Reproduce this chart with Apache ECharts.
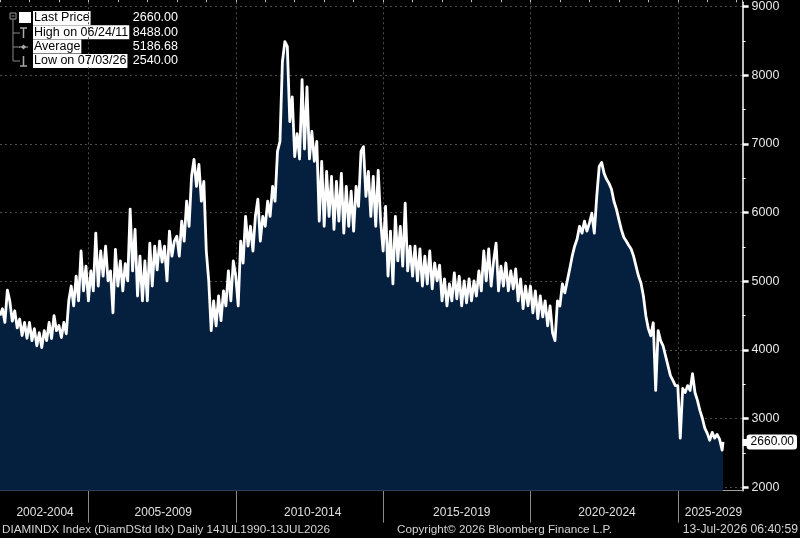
<!DOCTYPE html>
<html>
<head>
<meta charset="utf-8">
<script src="https://cdn.jsdelivr.net/npm/echarts@6/dist/echarts.min.js"></script>
<style>
  html, body { margin: 0; padding: 0; background: #000; }
  #main { width: 800px; height: 538px; }
</style>
</head>
<body>
<div id="main"></div>
<script>
// monthly closes, Jan 2002 .. Jun 2026
var startYear = 2002;
var monthly = [
  4500, 4600, 4400, 4870, 4710, 4420, 4570, 4320, 4450, 4210, 4400, 4170, // 2002
  4400, 4135, 4310, 4060, 4250, 4035, 4280, 4135, 4400, 4165, 4500, 4280, // 2003
  4355, 4180, 4400, 4235, 4715, 4930, 4640, 5075, 4715, 5440, 4860, 5220, // 2004
  4715, 5150, 4860, 5700, 4930, 5440, 5075, 5510, 5005, 5150, 4540, 5465, // 2005
  4930, 5295, 4860, 5255, 5005, 6050, 5150, 5755, 4785, 5365, 4715, 5295, // 2006
  4715, 5555, 4930, 5510, 5165, 5585, 5280, 5510, 5005, 5730, 5365, 5585, // 2007
  5655, 5365, 5875, 5585, 6165, 5800, 6525, 6775, 6380, 6700, 6165, 6455, // 2008
  5440, 5005, 4280, 4715, 4350, 4785, 4425, 4860, 4640, 5150, 4715, 5295, // 2009
  5075, 4640, 5585, 5265, 5945, 5510, 5800, 5440, 5945, 6195, 5585, 5945, // 2010
  5800, 6165, 5945, 6380, 6165, 6890, 7035, 8195, 8488, 8420, 7325, 7685, // 2011
  6815, 7150, 6780, 7935, 6925, 7830, 6780, 7180, 6745, 7035, 5875, 6745, // 2012
  5800, 6600, 5945, 6525, 5755, 6455, 5875, 6570, 5700, 6380, 5800, 6310, // 2013
  5730, 6380, 6090, 6890, 6960, 6235, 6600, 5945, 6525, 5800, 6615, 5875, // 2014
  5440, 6090, 5075, 5730, 4960, 5945, 5295, 5800, 5220, 6135, 5150, 5510, // 2015
  5075, 5510, 5005, 5470, 4930, 5365, 4960, 5440, 4890, 5265, 5005, 5235, // 2016
  4715, 5035, 4640, 4960, 4715, 5120, 4745, 5075, 4640, 5005, 4685, 5035, // 2017
  4715, 5005, 4785, 5150, 4860, 5440, 5005, 5470, 4930, 5295, 5555, 4860, // 2018
  5220, 4930, 5265, 4860, 5150, 4890, 5180, 4715, 5035, 4600, 4930, 4640, // 2019
  4930, 4540, 4860, 4455, 4785, 4480, 4715, 4350, 4640, 4250, 4135, 4715, // 2020
  4640, 4960, 4830, 5005, 5180, 5365, 5510, 5615, 5800, 5700, 5875, 5730, // 2021
  5845, 5990, 5700, 6235, 6670, 6730, 6570, 6485, 6425, 6340, 6165, 6050, // 2022
  5900, 5755, 5640, 5585, 5525, 5470, 5365, 5220, 5075, 4975, 4785, 4495, // 2023
  4310, 4205, 4395, 3410, 4280, 4135, 4060, 3915, 3770, 3625, 3555, 3480, // 2024
  3480, 2715, 3440, 3380, 3480, 3410, 3655, 3380, 3265, 3120, 3005, 2860, // 2025
  2785, 2685, 2800, 2715, 2770, 2700                                      // 2026
];
// last days: low on 07/03/26, last on 07/13/26
var julyPoints = [[2026.506, 2540], [2026.535, 2660]];

var yTicks = [2000, 3000, 4000, 5000, 6000, 7000, 8000, 9000];
var yMinorTicks = [2500, 3500, 4500, 5500, 6500, 7500, 8500];
var xDividers = [2005, 2010, 2015, 2020, 2025];
var xLabelPos = [2003.53, 2007.54, 2012.61, 2017.67, 2022.6, 2026.21];
var xLabelText = ["2002-2004", "2005-2009", "2010-2014", "2015-2019", "2020-2024", "2025-2029"];

var legendRows = [
  { name: "Last Price", value: "2660.00" },
  { name: "High on 06/24/11", value: "8488.00" },
  { name: "Average", value: "5186.68" },
  { name: "Low on 07/03/26", value: "2540.00" }
];
var lastPrice = 2660;

var points = monthly.map(function (v, i) {
  return [startYear + i / 12, v];
}).concat(julyPoints);

var FONT = "Liberation Sans";
var chart = echarts.init(document.getElementById("main"));

var xMin = 2002, xMax = 2027.2, yMin = 1950, yMax = 9062;
var gridDash = { color: "#4d4d4d", width: 1, type: [2, 3] };

// legend box built from graphic elements
var legend = [
  { type: "rect", shape: { x: 0, y: 7, width: 185, height: 67 }, style: { fill: "#000" } },
  { type: "rect", shape: { x: 10, y: 13, width: 6, height: 6 }, style: { fill: "none", stroke: "#999", lineWidth: 1 } },
  { type: "line", shape: { x1: 11.5, y1: 16, x2: 14.5, y2: 16 }, style: { stroke: "#999" } },
  { type: "line", shape: { x1: 13, y1: 19, x2: 13, y2: 61 }, style: { stroke: "#888" } },
  { type: "line", shape: { x1: 13, y1: 33, x2: 20, y2: 33 }, style: { stroke: "#888" } },
  { type: "line", shape: { x1: 13, y1: 47, x2: 20, y2: 47 }, style: { stroke: "#888" } },
  { type: "line", shape: { x1: 13, y1: 61, x2: 20, y2: 61 }, style: { stroke: "#888" } },
  // high marker
  { type: "line", shape: { x1: 20, y1: 28, x2: 27, y2: 28 }, style: { stroke: "#aaa", lineWidth: 1.5 } },
  { type: "line", shape: { x1: 23.5, y1: 28, x2: 23.5, y2: 38 }, style: { stroke: "#aaa", lineWidth: 1.5 } },
  // average marker
  { type: "line", shape: { x1: 19, y1: 47, x2: 28, y2: 47 }, style: { stroke: "#aaa" } },
  { type: "polygon", shape: { points: [[23.5, 44.5], [26, 47], [23.5, 49.5], [21, 47]] }, style: { fill: "#aaa" } },
  // low marker
  { type: "line", shape: { x1: 23.5, y1: 56, x2: 23.5, y2: 66 }, style: { stroke: "#aaa", lineWidth: 1.5 } },
  { type: "line", shape: { x1: 20, y1: 66, x2: 27, y2: 66 }, style: { stroke: "#aaa", lineWidth: 1.5 } },
  // last price swatch
  { type: "rect", shape: { x: 19, y: 12, width: 12, height: 11 }, style: { fill: "#fff" } }
];
legendRows.forEach(function (r, i) {
  var cy = 18 + i * 14.3;
  legend.push({
    type: "text", x: 33, y: cy,
    style: { text: r.name, fill: "#000", backgroundColor: "#fff", padding: [1, 1, 0, 1],
      font: "12.5px " + FONT, verticalAlign: "middle", align: "left" }
  });
  legend.push({
    type: "text", x: 178, y: cy,
    style: { text: r.value, fill: "#fff", font: "12.5px " + FONT, verticalAlign: "middle", align: "right" }
  });
});

var footer = [
  { type: "text", x: 2, y: 530, style: { text: "DIAMINDX Index (DiamDStd Idx) Daily 14JUL1990-13JUL2026",
      fill: "#d4d4d4", font: "11.7px " + FONT, verticalAlign: "middle" } },
  { type: "text", x: 397, y: 530, style: { text: "Copyright\u00a9 2026 Bloomberg Finance L.P.",
      fill: "#d4d4d4", font: "11.7px " + FONT, verticalAlign: "middle" } },
  { type: "text", x: 798, y: 530, style: { text: "13-Jul-2026 06:40:59",
      fill: "#d4d4d4", font: "12.2px " + FONT, verticalAlign: "middle", align: "right" } }
];

var option = {
  backgroundColor: "#000",
  animation: false,
  textStyle: { fontFamily: FONT },
  grid: { left: 0, top: 0, width: 748, height: 490.7 },
  xAxis: [
    {
      type: "value", min: xMin, max: xMax,
      axisLine: { show: true, lineStyle: { color: "#a0a0a0", width: 1 } },
      axisTick: { show: true, customValues: xDividers, length: 32, lineStyle: { color: "#8a8a8a" } },
      axisLabel: {
        show: true, customValues: xLabelPos, color: "#e0e0e0", fontSize: 12, margin: 16,
        formatter: function (v) {
          var k = xLabelPos.indexOf(v);
          return k >= 0 ? xLabelText[k] : "";
        }
      },
      splitLine: { show: true, lineStyle: gridDash }
    },
    {
      type: "value", min: xMin, max: xMax, interval: 1,
      axisLine: { show: false },
      axisTick: { show: true, length: 3, lineStyle: { color: "#bbb" } },
      axisLabel: { show: false },
      splitLine: { show: false }
    }
  ],
  yAxis: [
    {
      type: "value", position: "right", min: yMin, max: yMax,
      axisLine: { show: true, lineStyle: { color: "#fff", width: 1.5 } },
      axisTick: { show: true, customValues: yTicks, length: 6, lineStyle: { color: "#fff", width: 2.5 } },
      axisLabel: {
        show: true, customValues: yTicks, color: "#e8e8e8", fontSize: 12.5, margin: 9,
        formatter: function (v) { return String(v); }
      },
      splitLine: { show: true, lineStyle: gridDash }
    },
    {
      type: "value", position: "right", min: yMin, max: yMax,
      axisLine: { show: false },
      axisTick: { show: true, customValues: yMinorTicks, length: 3, lineStyle: { color: "#fff" } },
      axisLabel: { show: false },
      splitLine: { show: false }
    },
    {
      type: "value", position: "right", min: yMin, max: yMax,
      axisLine: { show: false },
      axisTick: { show: true, customValues: [lastPrice], length: 5, lineStyle: { color: "#fff", width: 7 } },
      axisLabel: {
        show: true, customValues: [lastPrice], margin: 4,
        formatter: function (v) { return v.toFixed(2); },
        color: "#000", fontSize: 12, backgroundColor: "#fff",
        padding: [2, 3, 1, 4], borderRadius: 3
      },
      splitLine: { show: false }
    }
  ],
  series: [
    {
      name: "Last Price",
      type: "line",
      xAxisIndex: 0,
      yAxisIndex: 0,
      data: points,
      showSymbol: false,
      sampling: null,
      lineStyle: { color: "#fff", width: 2.8, join: "round" },
      areaStyle: { color: "#05203f", opacity: 1, origin: "start" },
      z: 3
    }
  ],
  graphic: legend.concat(footer)
};

chart.setOption(option);
</script>
</body>
</html>
